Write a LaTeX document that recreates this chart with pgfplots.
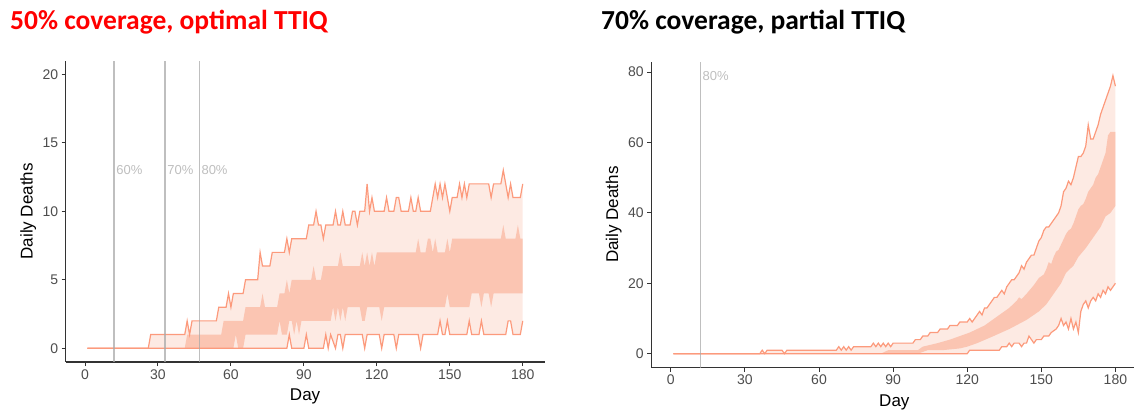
\documentclass[border=0pt]{standalone}
\usepackage{fontspec}
\setmainfont{Liberation Sans}
\newfontfamily\titlefont{Carlito}
\usepackage{pgfplots}
\pgfplotsset{compat=1.18}
\usepackage{pgfplotstable}
\usepgfplotslibrary{fillbetween}

\definecolor{linec}{HTML}{FC9A7C}
\definecolor{outerc}{HTML}{FDEAE3}
\definecolor{innerc}{HTML}{FBC5B2}
\definecolor{vlc}{HTML}{A9A9A9}
\definecolor{vtc}{HTML}{BEBEBE}
\definecolor{axc}{HTML}{333333}
\definecolor{tlc}{HTML}{4D4D4D}

% ---------- left panel: 50% coverage, optimal TTIQ ----------
\pgfplotstableread{
x y
1 0
26 0
27 1
41 1
42 2
43 1
44 2
54 2
55 3
58 3
59 4
60 3
61 4
65 4
66 5
71 5
72 7
73 6
76 6
77 7
82 7
83 8
84 7
85 8
91 8
92 9
94 9
95 10
96 9
97 9
98 8
99 9
102 9
103 10
104 9
105 9
106 10
107 9
109 9
110 10
111 10
112 9
113 10
115 10
116 12
117 10
118 11
119 10
123 10
124 11
125 10
127 10
128 11
129 11
130 10
133 10
134 11
135 10
136 10
137 11
138 10
142 10
143 11
144 12
145 11
146 12
147 11
148 12
149 11
150 10
151 11
153 11
154 12
155 11
156 12
157 11
158 12
166 12
167 11
168 12
171 12
172 13
173 12
174 11
175 12
176 11
179 11
180 12
}\LU

\pgfplotstableread{
x y
1 0
83 0
84 1
85 0
90 0
91 1
92 0
98 0
99 1
100 0
101 1
103 0
104 1
105 1
106 0
107 1
114 1
115 0
116 1
121 1
122 0
123 1
127 1
128 0
129 1
137 1
138 0
139 1
145 1
146 2
147 1
148 1
149 2
150 1
157 1
158 2
159 1
162 1
163 2
164 1
173 1
174 2
175 2
176 1
179 1
180 2
}\LL

\pgfplotstableread{
x y
1 0
41 0
42 1
56 1
57 2
65 2
66 3
72 3
73 4
74 3
79 3
80 4
82 4
83 5
84 4
85 5
93 5
94 6
95 5
97 5
98 6
104 6
105 7
106 6
113 6
114 7
115 6
116 7
117 6
118 7
119 6
120 7
136 7
137 8
138 7
140 7
141 8
142 8
143 7
144 8
145 7
148 7
149 8
150 7
151 8
171 8
172 9
173 8
177 8
178 9
179 8
180 8
}\LIU

\pgfplotstableread{
x y
1 0
61 0
62 1
63 0
65 0
66 1
79 1
80 2
81 1
83 1
84 2
85 2
86 1
87 2
88 1
89 2
101 2
102 3
103 2
104 3
105 2
106 3
107 2
108 3
113 3
114 2
115 2
116 3
121 3
122 2
123 3
148 3
149 4
150 3
158 3
159 4
162 4
163 3
164 4
166 4
167 3
168 4
180 4
}\LIL

% ---------- right panel: 70% coverage, partial TTIQ ----------
\pgfplotstableread{
x y
1 0
36 0
37 1
38 0
39 1
45 1
46 0
47 1
67 1
68 2
69 1
70 2
71 1
72 2
73 1
74 2
81 2
82 3
83 2
84 3
85 2
86 3
87 2
88 3
89 2
90 3
98 3
99 4
101 4
102 5
104 5
105 6
108 6
109 7
112 7
113 8
116 8
117 9
120 9
121 10
122 9
123 10
124 11
125 12
126 11
127 13
128 13
129 14
130 15
131 16
132 16
133 17
134 18
135 17
136 19
137 20
138 21
139 21
140 22
141 23
142 25
143 24
144 26
145 27
146 28
147 28
148 30
149 32
150 33
151 35
152 36
153 36
154 37
155 38
156 39
157 40
158 42
159 46
160 47
161 49
162 48
163 50
164 53
165 56
166 56
167 57
168 59
169 65
170 61
171 61
172 63
173 65
174 68
175 70
176 72
177 74
178 76
179 79
180 76
}\RU

\pgfplotstableread{
x y
1 0
120 0
121 1
133 1
134 2
136 2
137 3
138 2
139 3
141 3
142 2
143 3
144 3
145 5
146 4
147 3
148 4
150 4
151 5
153 5
154 6
156 7
157 8
158 10
159 8
160 9
161 7
162 10
163 7
164 9
165 6
166 12
167 14
168 15
169 13
170 15
171 16
172 15
173 17
174 16
175 18
176 17
177 19
178 18
179 19
180 20
}\RL

\pgfplotstableread{
x y
1 0
85 0
88 1
100 1
102 2
108 3
113 4
117 5
121 6
124 7
127 8
130 9.5
133 11
137 13
140 15
141 16
142 15.5
144 17
147 19.5
149 21.5
150 22
151 22.5
152 24
153 26
154 25.5
155 27.5
156 29
157 29.5
158 31
160 34
161 35
162 35.5
163 37
165 41
166 42
167 42.5
168 44
169 46
170 47
171 48
172 50
173 51
174 53
175 55
176 57
177 62
178 63
180 63
}\RIU

\pgfplotstableread{
x y
1 0
100 0
104 1
110 1
117 1.5
120 2
124 3
130 4.8
137 7
144 9.6
149 12
152 14
155 17
158 20
160 23
163 25
165 27.5
168 30
171 33
174 36
176 39
178 40
180 42
}\RIL

\pgfplotsset{
  panel/.style={
    scale only axis,
    anchor=south west,
    axis x line*=bottom,
    axis y line*=left,
    axis line style={-, draw=axc, line width=1.1pt},
    tick align=outside,
    major tick length=4pt,
    tick style={draw=axc, line width=1pt},
    xtick={0,30,...,180},
    xmin=-7.95, xmax=188.95,
    /pgf/number format/assume math mode=true,
    ticklabel style={font=\fontsize{14}{16}\selectfont, text=tlc},
    xlabel={Day},
    ylabel={Daily Deaths},
    label style={font=\fontsize{17}{19}\selectfont, text=black},
  },
  bandline/.style={draw=linec, line width=1.2pt},
  vline/.style={draw=vlc, line width=1.6pt, opacity=0.75},
}

\begin{document}
\begin{tikzpicture}

\node[anchor=base west, inner sep=0, text=red, font=\titlefont\bfseries\fontsize{27.5}{30}\selectfont] at (10pt,382.5pt) {50\% coverage, optimal TTIQ};
\node[anchor=base west, inner sep=0, text=black, font=\titlefont\bfseries\fontsize{27.5}{30}\selectfont] at (601pt,382.5pt) {70\% coverage, partial TTIQ};

\begin{axis}[panel,
  at={(65.7pt,50pt)}, width=478.8pt, height=301.4pt,
  ymin=-1, ymax=21, ytick={0,5,...,20},
  xlabel style={at={(axis description cs:0.5,-0.1294)}, anchor=base},
  ylabel style={at={(axis description cs:-0.0689,0.5)}, anchor=base}]
  \addplot[draw=none, name path=lu] table {\LU};
  \addplot[draw=none, name path=ll] table {\LL};
  \addplot[fill=outerc, draw=none] fill between[of=lu and ll];
  \addplot[draw=none, name path=liu] table {\LIU};
  \addplot[draw=none, name path=lil] table {\LIL};
  \addplot[fill=innerc, draw=none] fill between[of=liu and lil];
  \addplot[bandline] table {\LU};
  \addplot[bandline] table {\LL};
  \addplot[vline] coordinates {(12,-1) (12,21)};
  \addplot[vline] coordinates {(33,-1) (33,21)};
  \addplot[vline] coordinates {(47,-1) (47,21)};
  \node[anchor=west, inner sep=2pt, text=vtc, font=\fontsize{13}{15}\selectfont] at (axis cs:12,13) {60\%};
  \node[anchor=west, inner sep=2pt, text=vtc, font=\fontsize{13}{15}\selectfont] at (axis cs:33,13) {70\%};
  \node[anchor=west, inner sep=2pt, text=vtc, font=\fontsize{13}{15}\selectfont] at (axis cs:47,13) {80\%};
\end{axis}

\begin{axis}[panel,
  at={(651.2pt,44.4pt)}, width=486.3pt, height=305.9pt,
  ymin=-3.95, ymax=82.95, ytick={0,20,...,80},
  xlabel style={at={(axis description cs:0.5,-0.1275)}, anchor=base},
  ylabel style={at={(axis description cs:-0.0679,0.5)}, anchor=base}]
  \addplot[draw=none, name path=ru] table {\RU};
  \addplot[draw=none, name path=rl] table {\RL};
  \addplot[fill=outerc, draw=none] fill between[of=ru and rl];
  \addplot[draw=none, name path=riu] table {\RIU};
  \addplot[draw=none, name path=ril] table {\RIL};
  \addplot[fill=innerc, draw=none] fill between[of=riu and ril];
  \addplot[bandline] table {\RU};
  \addplot[bandline] table {\RL};
  \addplot[vline] coordinates {(12,-3.95) (12,82.95)};
  \node[anchor=west, inner sep=2pt, text=vtc, font=\fontsize{13}{15}\selectfont] at (axis cs:12,79) {80\%};
\end{axis}

\pgfresetboundingbox
\useasboundingbox (0,0) rectangle (1134pt,412pt);
\end{tikzpicture}
\end{document}
